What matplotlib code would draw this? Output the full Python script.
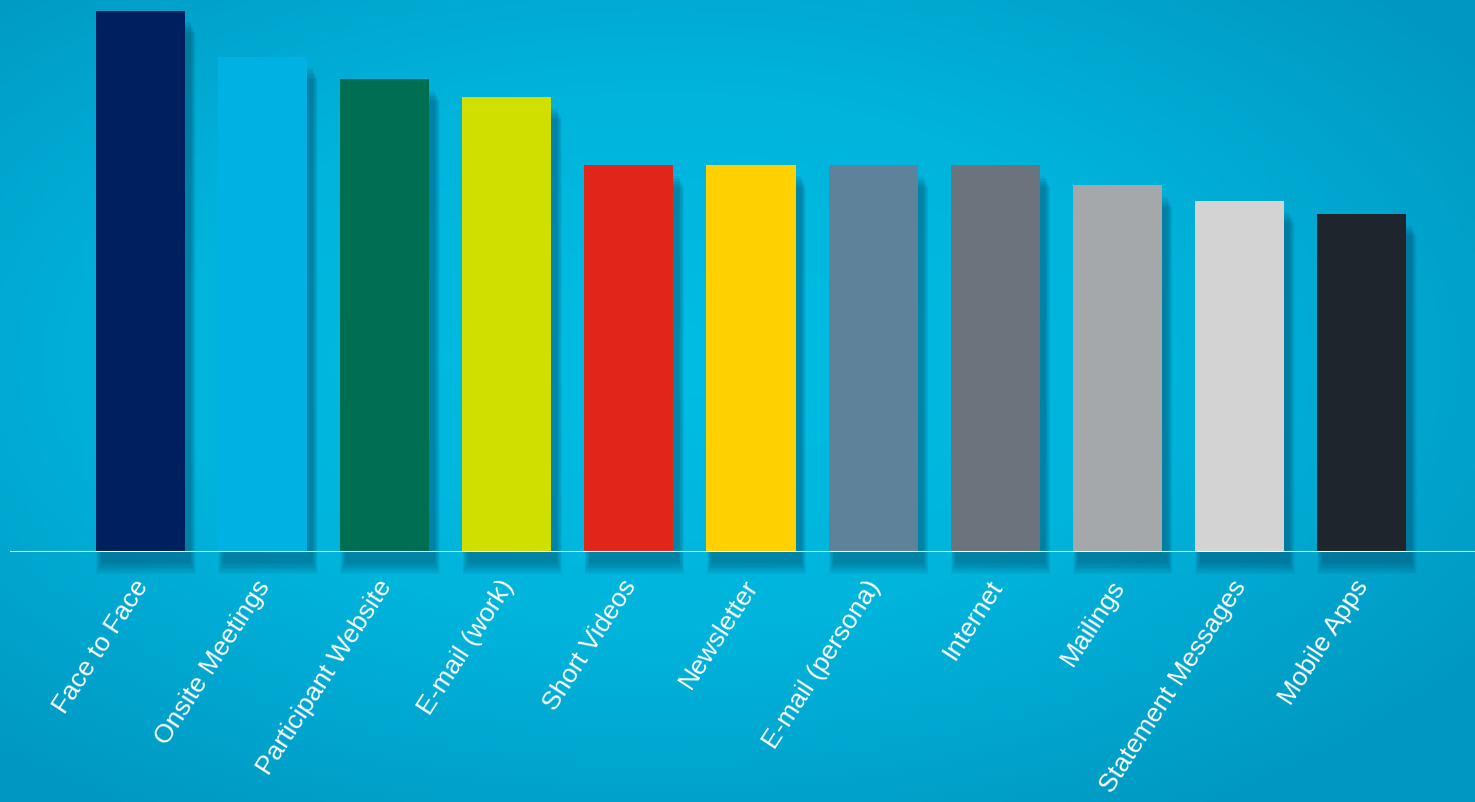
import numpy as np
import matplotlib.pyplot as plt
from matplotlib.colors import LinearSegmentedColormap
from matplotlib.transforms import ScaledTranslation

channels = ["Face to Face", "Onsite Meetings", "Participant Website", "E-mail (work)",
            "Short Videos", "Newsletter", "E-mail (persona)", "Internet",
            "Mailings", "Statement Messages", "Mobile Apps"]
scores = [100, 91.5, 87.4, 84.1, 71.5, 71.5, 71.5, 71.5, 67.8, 64.9, 62.5]
bar_colors = ["#001f5f", "#00b2e3", "#006f51", "#d0df00", "#e1251b", "#ffd100",
              "#5e8299", "#6b737c", "#a5a8ab", "#d2d3d2", "#1f252d"]

plt.rcParams['font.family'] = ['Liberation Sans', 'DejaVu Sans']

fig = plt.figure(figsize=(14.75, 8.02), dpi=100)

# background gradient
bg = fig.add_axes([0, 0, 1, 1])
yy, xx = np.mgrid[0:1:200j, 0:1:300j]
r = np.sqrt(((xx - 0.45) / 0.75) ** 2 + ((yy - 0.45) / 0.75) ** 2)
cmap = LinearSegmentedColormap.from_list("bg", ["#00bde3", "#00b4dc", "#0098c2"])
bg.imshow(r, cmap=cmap, extent=[0, 1, 0, 1], aspect='auto', origin='upper',
          vmin=0, vmax=0.9)
bg.axis('off')

ax = fig.add_axes([10 / 1475, 1 - 552 / 802, 1 - 10 / 1475, 552 / 802])
ax.patch.set_alpha(0)
x = np.arange(len(channels))
width = 0.73

# soft drop shadows (offset right and down, layered for blur)
for k in range(8):
    ax.bar(x + 0.045, scores, width=width + 0.012 * k, bottom=-2.0 - 0.3 * k,
           color="#00354f", alpha=0.055, zorder=1, clip_on=False, linewidth=0)

ax.bar(x, scores, width=width, color=bar_colors, zorder=3)
ax.axhline(0, color="white", lw=2.2, zorder=4)

ax.set_xlim(-130.5 / 122.1, (1475 - 140.5) / 122.1)
ax.set_ylim(0, 100 * 552 / 541)
ax.set_xticks(x)
ax.set_xticklabels(channels, rotation=57, ha='right', va='top',
                   rotation_mode='anchor', color='white', fontsize=19)
ax.tick_params(axis='x', length=0, pad=17)
shift = ScaledTranslation(-0.08, 0, fig.dpi_scale_trans)
for lab in ax.get_xticklabels():
    lab.set_transform(lab.get_transform() + shift)
ax.set_yticks([])
for s in ax.spines.values():
    s.set_visible(False)

fig.savefig("out.png", dpi=100)
